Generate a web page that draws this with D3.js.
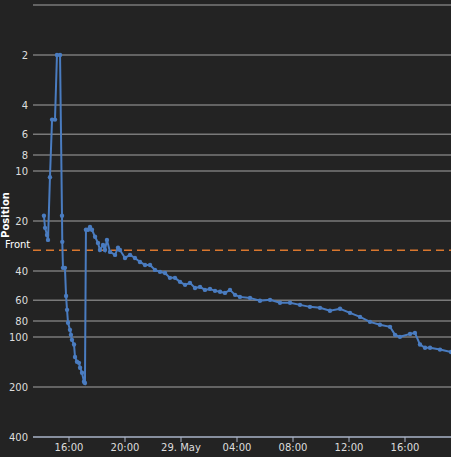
<!DOCTYPE html>
<html><head><meta charset="utf-8">
<script src="https://cdn.jsdelivr.net/npm/d3@7"></script>
<style>body{margin:0;background:#232323}</style>
</head><body>
<script>
// hours since 28 May 00:00
const hours = [14.21,14.29,14.43,14.5,14.64,14.79,15.0,15.14,15.36,15.5,15.52,15.57,15.71,15.79,15.86,15.93,16.07,16.14,16.21,16.36,16.43,16.57,16.71,16.79,16.93,17.07,17.14,17.21,17.36,17.5,17.64,17.86,18.07,18.21,18.43,18.57,18.71,18.93,19.29,19.5,19.64,20.0,20.36,20.71,21.07,21.43,21.79,22.14,22.5,22.86,23.21,23.57,23.93,24.29,24.64,25.0,25.36,25.71,26.07,26.43,26.79,27.14,27.5,27.86,28.21,28.93,29.64,30.36,31.07,31.79,32.5,33.21,33.93,34.64,35.36,36.07,36.79,37.5,38.21,38.93,39.29,39.64,40.36,40.71,41.07,41.43,41.79,42.5,43.29]
const positions = [18.6,22,24.3,26,10.9,4.9,4.9,2,2,18.6,26.7,38.3,38.3,56.5,68.6,82,90.5,97,104,111,132,141,143,153,164,186,189,22.6,22.6,21.7,22.6,24.9,27.1,29.9,27.9,29.9,26,30.7,32,29,29.9,33.4,32,33.4,35.3,36.8,36.8,39.4,40.5,41.1,44,44,46.5,48.5,47.2,50.6,49.9,52,51.3,52.7,53.4,54.2,52,55.7,57.3,58.1,60.5,59.7,62.2,62.2,64,65.8,66.7,69.5,67.6,71.5,75.6,81,84.4,86.8,97,99.7,95.7,94.4,111,116,116,119,123]
const yTicks = [2,4,6,8,10,20,40,60,80,100,200,400]
const xTicks = [16,20,24,28,32,36,40]
const front = 30

const W = 451, H = 457
const svg = d3.select('body').append('svg').attr('width', W).attr('height', H)
svg.append('rect').attr('width', W).attr('height', H).attr('fill', '#232323')

const x = d3.scaleLinear().domain([16, 32]).range([69, 293])
const y = d3.scaleLog().domain([1, 400]).range([5, 437])

// grid
svg.selectAll('.grid').data([1].concat(yTicks.slice(0, -1))).enter().append('line')
  .attr('x1', 33).attr('x2', W).attr('y1', d => y(d)).attr('y2', d => y(d))
  .attr('stroke', '#7a7a7a').attr('stroke-width', 1.5)

svg.selectAll('.yl').data(yTicks).enter().append('text')
  .attr('x', 28).attr('y', d => y(d) + 4).attr('text-anchor', 'end')
  .attr('fill', '#ddd').attr('font-family', 'DejaVu Sans, sans-serif').attr('font-size', 10)
  .text(d => d)

// x axis
svg.append('line').attr('x1', 33).attr('x2', W).attr('y1', 437).attr('y2', 437)
  .attr('stroke', '#aab4c8').attr('stroke-width', 1.5)
svg.selectAll('.xt').data(xTicks).enter().append('line')
  .attr('x1', d => x(d)).attr('x2', d => x(d)).attr('y1', 437).attr('y2', 442)
  .attr('stroke', '#aab4c8')
svg.selectAll('.xl').data(xTicks).enter().append('text')
  .attr('x', d => x(d)).attr('y', 451).attr('text-anchor', 'middle')
  .attr('fill', '#ddd').attr('font-family', 'DejaVu Sans, sans-serif').attr('font-size', 10)
  .text(d => d === 24 ? '29. May' : String(d % 24).padStart(2, '0') + ':00')

svg.append('text').attr('transform', 'translate(9,215) rotate(-90)')
  .attr('text-anchor', 'middle').attr('fill', '#fff').attr('font-weight', 'bold')
  .attr('font-family', 'DejaVu Sans, sans-serif').attr('font-size', 10).text('Position')

// front line
svg.append('line').attr('x1', 33).attr('x2', W).attr('y1', y(front)).attr('y2', y(front))
  .attr('stroke', '#d9772e').attr('stroke-width', 1.5).attr('stroke-dasharray', '8,5')
svg.append('text').attr('x', 5).attr('y', y(front) - 2).attr('fill', '#fff')
  .attr('font-family', 'DejaVu Sans, sans-serif').attr('font-size', 10).text('Front')

// series
const pts = hours.map((h, i) => [h, positions[i]])
svg.append('path').datum(pts)
  .attr('d', d3.line().x(d => x(d[0])).y(d => y(d[1])))
  .attr('fill', 'none').attr('stroke', '#4a7cc0').attr('stroke-width', 2)
svg.selectAll('.pt').data(pts).enter().append('circle')
  .attr('cx', d => x(d[0])).attr('cy', d => y(d[1])).attr('r', 2.2)
  .attr('fill', '#4a7cc0')
</script>
</body></html>
